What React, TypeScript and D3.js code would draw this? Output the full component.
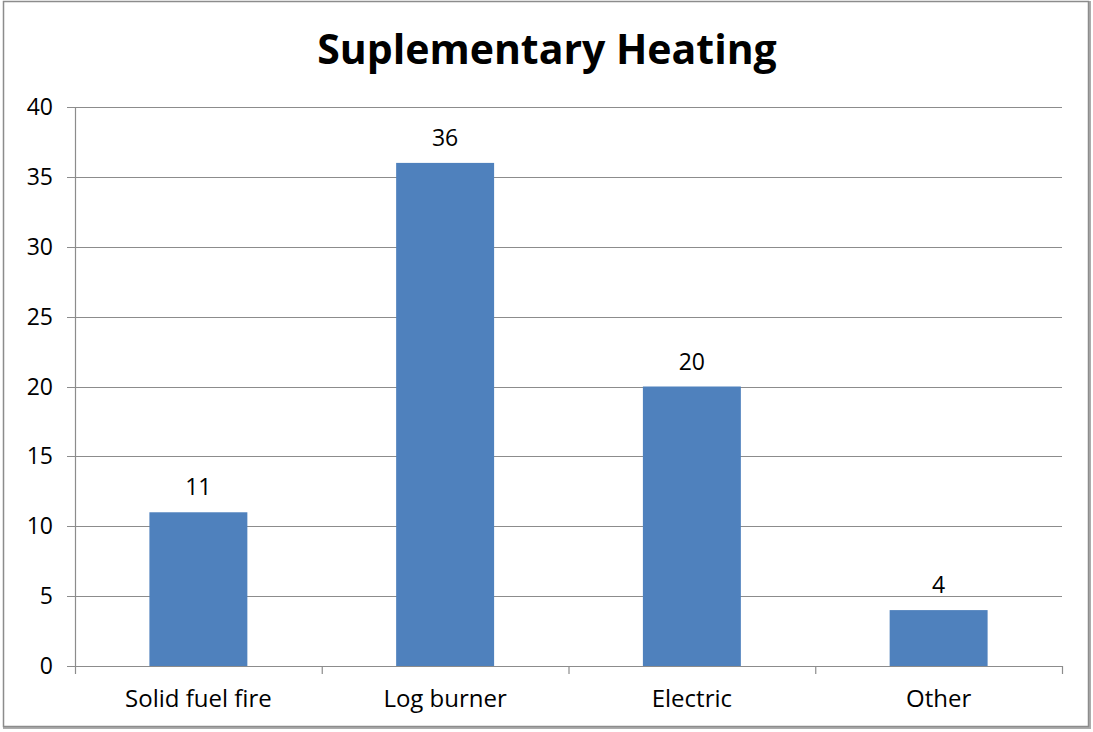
import React from "react";
import * as d3 from "d3";

const categories = ["Solid fuel fire", "Log burner", "Electric", "Other"];
const values = [11, 36, 20, 4];
const yTicks = [0, 5, 10, 15, 20, 25, 30, 35, 40];
const title = "Suplementary Heating";

export default function App() {
  const W = 1093, H = 732;
  const left = 75, right = 1062, top = 107, bottom = 666;
  const x = d3.scaleBand<string>().domain(categories).range([left, right]).paddingInner(0).paddingOuter(0);
  const y = d3.scaleLinear().domain([0, 40]).range([bottom, top]);
  const bw = x.bandwidth();
  const barW = bw * 0.397;
  const font = "'Open Sans', 'Liberation Sans', sans-serif";
  const boundaries = categories.map((c) => x(c) as number).concat([right]);
  return (
    <svg width={W} height={H} style={{ position: "absolute", left: 0, top: 0 }} fontFamily={font}>
      <rect x={0} y={0} width={W} height={H} fill="#fff" />
      <rect x={4.5} y={2.5} width={W - 8} height={H - 7} fill="none" stroke="#5a5a5a" strokeWidth={3} opacity={0.5} />
      <rect x={3.5} y={1.5} width={W - 8} height={H - 7} fill="#fff" stroke="#8c8c8c" strokeWidth={1.5} />
      <text x={547} y={64} textAnchor="middle" fontSize={41} fontWeight="bold" fill="#000">{title}</text>
      {yTicks.map((t) => (
        <g key={t}>
          <line x1={left - 8} x2={right} y1={Math.round(y(t)) + 0.5} y2={Math.round(y(t)) + 0.5} stroke="#8c8c8c" strokeWidth={1.2} />
          <text x={53} y={y(t) + 8} textAnchor="end" fontSize={23} fill="#000">{t}</text>
        </g>
      ))}
      <line x1={left + 0.5} x2={left + 0.5} y1={top} y2={bottom} stroke="#8c8c8c" strokeWidth={1.2} />
      {boundaries.map((b, i) => (
        <line key={i} x1={b + 0.5} x2={b + 0.5} y1={bottom} y2={bottom + 8} stroke="#8c8c8c" strokeWidth={1.2} />
      ))}
      {categories.map((c, i) => {
        const cx = (x(c) as number) + bw / 2;
        return (
          <g key={c}>
            <rect x={cx - barW / 2} y={y(values[i])} width={barW} height={bottom - y(values[i])} fill="#4F81BD" />
            <text x={cx} y={y(values[i]) - 17} textAnchor="middle" fontSize={23} fill="#000">{values[i]}</text>
            <text x={cx} y={707} textAnchor="middle" fontSize={24} fill="#000">{c}</text>
          </g>
        );
      })}
    </svg>
  );
}
